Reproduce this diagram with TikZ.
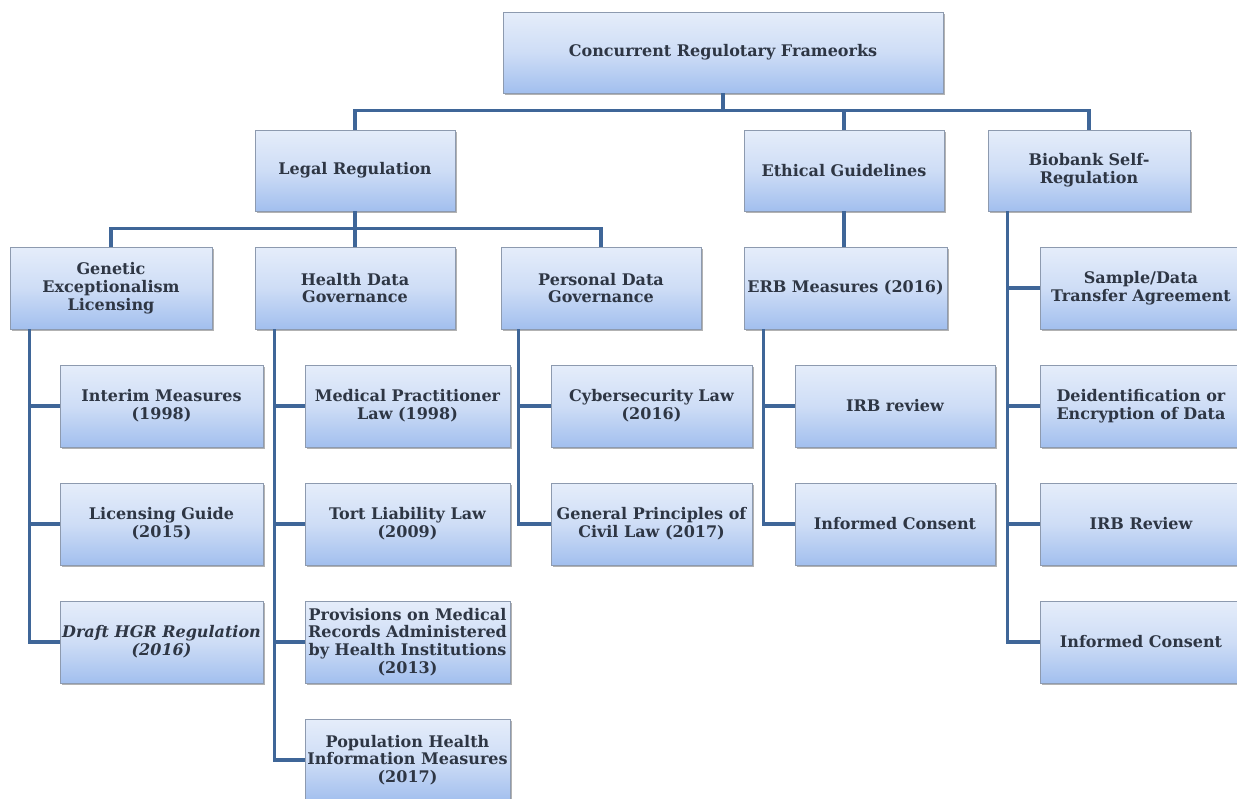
\documentclass[tikz,border=0pt]{standalone}
\usepackage{fontspec}
\setmainfont{DejaVu Serif}
\usetikzlibrary{shadows}
\definecolor{boxtop}{HTML}{E5EDFA}
\definecolor{boxmid}{HTML}{CEDDF6}
\definecolor{boxbot}{HTML}{A2BFEE}
\definecolor{boxline}{HTML}{8D9AAF}
\definecolor{linkc}{HTML}{3F6698}
\definecolor{txt}{HTML}{2E3644}
\begin{document}
\begin{tikzpicture}[x=1pt,y=-1pt,
  box/.style={draw=boxline, line width=0.8pt,
    top color=boxtop, bottom color=boxbot, middle color=boxmid,
    drop shadow={shadow xshift=1.5pt, shadow yshift=-2pt, fill=black, opacity=0.3},
    text=txt, font=\fontsize{16}{17.7}\selectfont\bfseries, align=center,
    minimum width=201pt, minimum height=82pt, inner sep=1pt},
  link/.style={draw=linkc, line width=3.2pt, line join=miter}
]
\path[use as bounding box, clip] (0,0) rectangle (1237,798);

% level 1
\node[box, minimum width=440pt, minimum height=81pt] (top) at (723,52.5) {Concurrent Regulotary Frameorks};
% level 2
\node[box, minimum width=200pt, minimum height=81pt] (legal) at (355,170.5) {Legal Regulation};
\node[box, minimum width=200pt, minimum height=81pt] (ethical) at (844,170.5) {Ethical Guidelines};
\node[box, minimum width=202pt, minimum height=81pt] (biobank) at (1089,170.5) {Biobank Self-\\Regulation};
% level 3
\node[box, minimum width=202pt] (genetic) at (111,288) {Genetic\\Exceptionalism\\Licensing};
\node[box, minimum width=200pt] (health) at (355,288) {Health Data\\Governance};
\node[box, minimum width=200pt] (personal) at (601,288) {Personal Data\\Governance};
\node[box, minimum width=203pt] (erb) at (845.5,288) {ERB Measures (2016)};
\node[box, minimum width=202pt] (sample) at (1141,288) {Sample/Data\\Transfer Agreement};
% row 4
\node[box, minimum width=203pt] (interim) at (161.5,406) {Interim Measures\\(1998)};
\node[box, minimum width=205pt] (medical) at (407.5,406) {Medical Practitioner\\Law (1998)};
\node[box] (cyber) at (651.5,406) {Cybersecurity Law\\(2016)};
\node[box, minimum width=200pt] (irbA) at (895,406) {IRB review};
\node[box, minimum width=202pt] (deid) at (1141,406) {Deidentification or\\Encryption of Data};
% row 5
\node[box, minimum width=203pt] (licensing) at (161.5,524) {Licensing Guide\\(2015)};
\node[box, minimum width=205pt] (tort) at (407.5,524) {Tort Liability Law\\(2009)};
\node[box] (general) at (651.5,524) {General Principles of\\Civil Law (2017)};
\node[box, minimum width=200pt] (consentA) at (895,524) {Informed Consent};
\node[box, minimum width=202pt] (irbB) at (1141,524) {IRB Review};
% row 6
\node[box, minimum width=203pt] (draft) at (161.5,642) {\textit{Draft HGR Regulation}\\\textit{(2016)}};
\node[box, minimum width=205pt] (provisions) at (407.5,642) {Provisions on Medical\\Records Administered\\by Health Institutions\\(2013)};
\node[box, minimum width=202pt] (consentB) at (1141,642) {Informed Consent};
% row 7
\node[box, minimum width=205pt] (population) at (407.5,760) {Population Health\\Information Measures\\(2017)};

% connectors level 1 -> 2
\coordinate (tb) at ([yshift=-17pt]top.south);
\draw[link] (top.south) -- (tb);
\draw[link] (legal.north) |- (tb) -| (biobank.north);
\draw[link] (ethical.north) -- (ethical.north |- tb);
% legal -> level 3
\coordinate (lb) at ([yshift=-17pt]legal.south);
\draw[link] (legal.south) -- (health.north);
\draw[link] (genetic.north) |- (lb) -| (personal.north);
% ethical -> erb
\draw[link] (ethical.south) -- (ethical.south |- erb.north);

% spines
\coordinate (gv) at ([xshift=20pt]genetic.south west);
\draw[link] (gv) |- (draft.west);
\draw[link] (gv |- interim.west) -- (interim.west);
\draw[link] (gv |- licensing.west) -- (licensing.west);

\coordinate (hv) at ([xshift=20pt]health.south west);
\draw[link] (hv) |- (population.west);
\draw[link] (hv |- medical.west) -- (medical.west);
\draw[link] (hv |- tort.west) -- (tort.west);
\draw[link] (hv |- provisions.west) -- (provisions.west);

\coordinate (pv) at ([xshift=18pt]personal.south west);
\draw[link] (pv) |- (general.west);
\draw[link] (pv |- cyber.west) -- (cyber.west);

\coordinate (ev) at ([xshift=20pt]erb.south west);
\draw[link] (ev) |- (consentA.west);
\draw[link] (ev |- irbA.west) -- (irbA.west);

\coordinate (bv) at ([xshift=20pt]biobank.south west);
\draw[link] (bv) |- (consentB.west);
\draw[link] (bv |- sample.west) -- (sample.west);
\draw[link] (bv |- deid.west) -- (deid.west);
\draw[link] (bv |- irbB.west) -- (irbB.west);
\end{tikzpicture}
\end{document}
